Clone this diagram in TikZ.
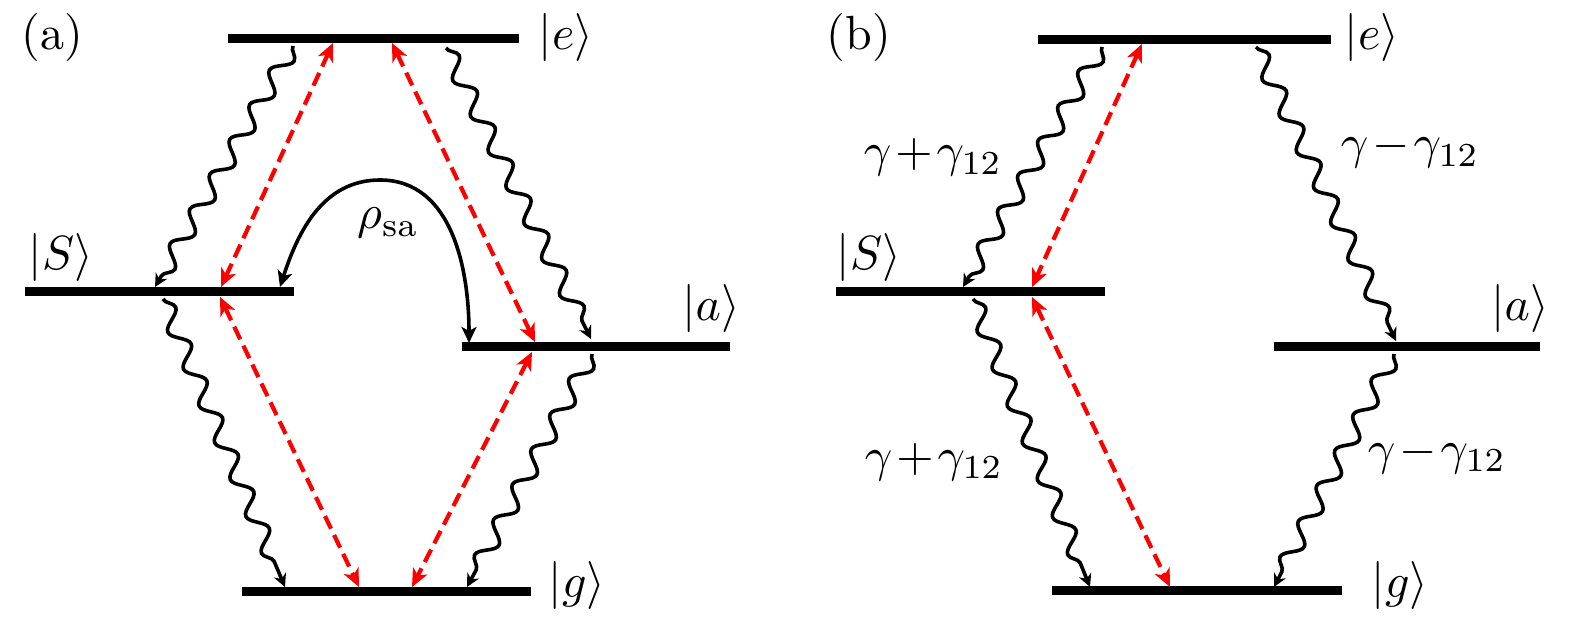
\documentclass[tikz,border=0pt]{standalone}
\usetikzlibrary{arrows.meta,decorations.pathmorphing}
\newcommand{\tp}{\mskip1.5mu{+}\mskip1.5mu}
\newcommand{\tm}{\mskip1.5mu{-}\mskip1.5mu}
\tikzset{
  lvl/.style={line width=9pt},
  lbl/.style={inner sep=0pt, scale=4.8},
  wavy/.style={line width=3.6pt, decorate,
    decoration={snake, amplitude=8.5pt, segment length=40pt, post length=12pt},
    -{Stealth[length=13pt,width=13pt]}},
  pump/.style={red, line width=4.2pt, dash pattern=on 14pt off 7pt,
    {Stealth[length=18pt,width=16pt,inset=5pt]}-{Stealth[length=18pt,width=16pt,inset=5pt]}},
  coh/.style={line width=3.6pt,
    {Stealth[length=16pt,width=15pt,inset=4pt]}-{Stealth[length=16pt,width=15pt,inset=4pt]}}
}
\begin{document}
\begin{tikzpicture}[x=1pt,y=-1pt]
\useasboundingbox (0,0) rectangle (1575,620);
% ---------- panel (a) ----------
\coordinate (eAL) at (228,39);  \coordinate (eAR) at (519,39);
\coordinate (SAL) at (25,292);  \coordinate (SAR) at (294,292);
\coordinate (aAL) at (462,347); \coordinate (aAR) at (730,347);
\coordinate (gAL) at (242,591); \coordinate (gAR) at (531,591);
\draw[lvl] (eAL) -- (eAR);
\draw[lvl] (SAL) -- (SAR);
\draw[lvl] (aAL) -- (aAR);
\draw[lvl] (gAL) -- (gAR);
\node[lbl] (labA) at (52,37.5) {(a)};
\node[lbl] (keA) at (566,37.5) {$|e\rangle$};
\node[lbl] (kSA) at (61,258) {$|S\rangle$};
\node[lbl] (kaA) at (711,309) {$|a\rangle$};
\node[lbl] (kgA) at (577,585) {$|g\rangle$};
\node[lbl,anchor=base] (rho) at (388,229) {$\rho_{\mathrm{sa}}$};
% wavy decays (a)
\coordinate (w1s) at (293,46);  \coordinate (w1e) at (155,287);
\coordinate (w2s) at (446,48);  \coordinate (w2e) at (591,339);
\coordinate (w3s) at (163,299); \coordinate (w3e) at (285,587);
\coordinate (w4s) at (592,354); \coordinate (w4e) at (467,587);
\draw[wavy] (w1s) -- (w1e);
\draw[wavy] (w2s) -- (w2e);
\draw[wavy] (w3s) -- (w3e);
\draw[wavy] (w4s) -- (w4e);
% red couplings (a)
\coordinate (r1a) at (333,43);  \coordinate (r1b) at (221,287);
\coordinate (r2a) at (392,43);  \coordinate (r2b) at (535,342);
\coordinate (r3a) at (220,297); \coordinate (r3b) at (359,587);
\coordinate (r4a) at (532,352); \coordinate (r4b) at (412,587);
\draw[pump] (r1a) -- (r1b);
\draw[pump] (r2a) -- (r2b);
\draw[pump] (r3a) -- (r3b);
\draw[pump] (r4a) -- (r4b);
% coherence arrow
\coordinate (cS) at (280,287); \coordinate (cT) at (380,180); \coordinate (cA) at (469,343);
\draw[coh] (cS) to[out=72,in=180] (cT) to[out=0,in=90] (cA);
% ---------- panel (b) ----------
\coordinate (eBL) at (1038,40);  \coordinate (eBR) at (1331,40);
\coordinate (SBL) at (836,292);  \coordinate (SBR) at (1105,292);
\coordinate (aBL) at (1274,347); \coordinate (aBR) at (1540,347);
\coordinate (gBL) at (1052,590); \coordinate (gBR) at (1342,590);
\draw[lvl] (eBL) -- (eBR);
\draw[lvl] (SBL) -- (SBR);
\draw[lvl] (aBL) -- (aBR);
\draw[lvl] (gBL) -- (gBR);
\node[lbl] (labB) at (859,37.5) {(b)};
\node[lbl] (keB) at (1372,37.5) {$|e\rangle$};
\node[lbl] (kSB) at (869,258) {$|S\rangle$};
\node[lbl] (kaB) at (1520,309) {$|a\rangle$};
\node[lbl] (kgB) at (1400,585) {$|g\rangle$};
\node[lbl,anchor=base] (g1) at (933,167) {$\gamma\tp\gamma_{12}$};
\node[lbl,anchor=base] (g2) at (1410,159) {$\gamma\tm\gamma_{12}$};
\node[lbl,anchor=base] (g3) at (934,471) {$\gamma\tp\gamma_{12}$};
\node[lbl,anchor=base] (g4) at (1437,464) {$\gamma\tm\gamma_{12}$};
\coordinate (v1s) at (1102,47);  \coordinate (v1e) at (963,287);
\coordinate (v2s) at (1256,47);  \coordinate (v2e) at (1396,341);
\coordinate (v3s) at (973,299);  \coordinate (v3e) at (1090,587);
\coordinate (v4s) at (1394,354); \coordinate (v4e) at (1274,587);
\draw[wavy] (v1s) -- (v1e);
\draw[wavy] (v2s) -- (v2e);
\draw[wavy] (v3s) -- (v3e);
\draw[wavy] (v4s) -- (v4e);
\coordinate (q1a) at (1142,44);  \coordinate (q1b) at (1032,287);
\coordinate (q2a) at (1032,297); \coordinate (q2b) at (1170,587);
\draw[pump] (q1a) -- (q1b);
\draw[pump] (q2a) -- (q2b);
\end{tikzpicture}
\end{document}
